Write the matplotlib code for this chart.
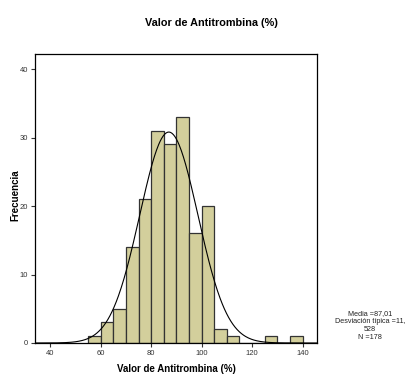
import numpy as np
import matplotlib
matplotlib.use("Agg")
import matplotlib.pyplot as plt

plt.rcParams['font.family'] = ['Liberation Sans', 'DejaVu Sans']

bin_edges = [55, 60, 65, 70, 75, 80, 85, 90, 95, 100, 105, 110, 115, 120, 125, 130, 135, 140]
counts = [1, 3, 5, 14, 21, 31, 29, 33, 16, 20, 2, 1, 0, 0, 1, 0, 1]
mean = 87.01
std = 11.528
n = 178
xticks = [40, 60, 80, 100, 120, 140]
yticks = [0, 10, 20, 30, 40]

fig = plt.figure(figsize=(4.06, 3.76), dpi=100)
ax = fig.add_axes([0.0862, 0.0878, 0.6946, 0.7686])

widths = np.diff(bin_edges)
ax.bar(bin_edges[:-1], counts, width=widths, align='edge', color='#d3cf9c',
       edgecolor='#333333', linewidth=0.9)

xs = np.linspace(34, 145.7, 400)
binw = 5
ys = n * binw / (std * np.sqrt(2 * np.pi)) * np.exp(-0.5 * ((xs - mean) / std) ** 2)
ax.plot(xs, ys, color='black', linewidth=0.8)

ax.set_xlim(34, 145.7)
ax.set_ylim(0, 42.2)
ax.set_xticks(xticks)
ax.set_yticks(yticks)
ax.tick_params(labelsize=5.5, colors='#333333', length=3, width=0.8, direction='out', pad=2)
for s in ax.spines.values():
    s.set_linewidth(0.9)
    s.set_color('black')

ax.set_xlabel('Valor de Antitrombina (%)', fontsize=7, fontweight='bold', labelpad=5)
fig.text(0.037, 0.481, 'Frecuencia', fontsize=7, fontweight='bold', rotation=90,
         ha='center', va='center')
fig.text(0.52, 0.94, 'Valor de Antitrombina (%)', fontsize=7.8, fontweight='bold',
         ha='center', va='center')
fig.text(0.911, 0.133, 'Media =87,01\nDesviación típica =11,\n528\nN =178',
         fontsize=5.2, ha='center', va='center', linespacing=1.2, color='#222222')

fig.savefig('out.png', dpi=100)
